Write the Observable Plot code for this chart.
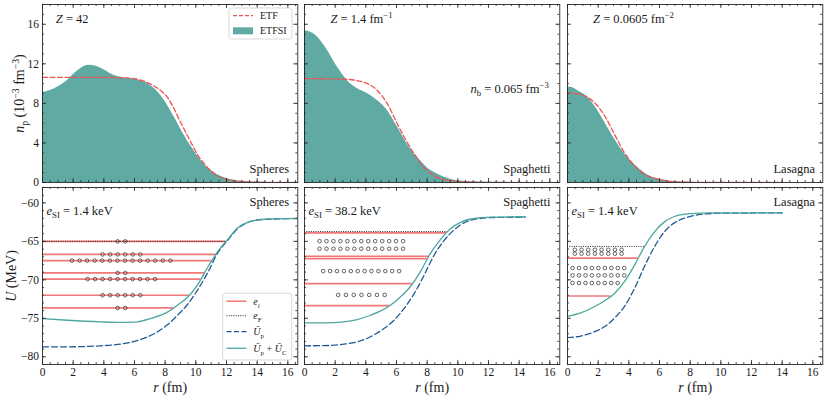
<!DOCTYPE html>
<html><head><meta charset="utf-8">
<script src="https://cdn.jsdelivr.net/npm/d3@7"></script>
<script src="https://cdn.jsdelivr.net/npm/@observablehq/plot@0.6"></script>
<style>
body{margin:0;background:#fff;}
#chart{position:relative;width:830px;height:396px;overflow:hidden;background:#fff;}
text{white-space:pre;}
</style></head><body><div id="chart"></div>
<script>
// ---------------- DATA ----------------
// proton density n_p (1e-3 fm^-3) vs r (fm): [r, n]
const spheresETFSI = [[0,9.1],[0.5,9.3],[1,9.65],[1.6,10.3],[2.3,11.3],[3.0,11.85],[3.5,11.75],[4.0,11.4],[4.5,10.95],[5.1,10.65],[6.0,10.45],[6.6,10.2],[7.3,9.5],[7.95,8.3],[8.6,6.6],[9.25,4.75],[9.8,3.4],[10.35,2.2],[11.0,1.2],[11.65,0.6],[12.5,0.22],[13.6,0.06],[15,0.01],[16.65,0]];
const spheresETF = [[0,10.62],[4,10.62],[5,10.6],[6,10.5],[6.6,10.25],[7.1,9.9],[7.7,9.3],[8.2,8.5],[8.6,7.4],[9.05,5.95],[9.5,4.6],[9.8,3.7],[10.2,2.6],[10.6,1.8],[11.0,1.15],[11.4,0.68],[12,0.32],[12.5,0.17],[13.5,0.04],[16.65,0]];
const spaghettiETFSI = [[0,15.35],[0.4,15.2],[0.83,14.75],[1.48,13.4],[2.13,11.7],[2.8,10.3],[3.44,9.5],[4.1,9.0],[4.75,8.3],[5.4,7.3],[6.06,5.6],[6.7,3.9],[7.36,2.54],[8.0,1.5],[8.67,0.85],[9.5,0.34],[10.6,0.1],[12,0.02],[14.4,0]];
const spaghettiETF = [[0,10.5],[2.5,10.45],[3.44,10.3],[4.1,10.0],[4.75,9.3],[5.4,7.97],[6.06,5.9],[6.5,4.6],[7.15,2.9],[7.8,1.5],[8.45,0.68],[9.3,0.24],[10.4,0.07],[12,0.01],[14.4,0]];
const lasagnaETFSI = [[0,9.66],[0.3,9.6],[0.65,9.3],[1.3,8.64],[1.96,7.3],[2.6,5.6],[3.27,3.9],[3.92,2.54],[4.6,1.5],[5.2,0.78],[6.1,0.27],[7.0,0.07],[8.5,0.01],[14,0]];
const lasagnaETF = [[0,9.08],[0.87,8.9],[1.74,8.1],[2.4,6.8],[3.05,4.9],[3.7,3.05],[4.36,1.7],[5.0,0.85],[5.9,0.34],[6.75,0.1],[8,0.02],[14,0]];

// potentials U (MeV) vs r (fm): [r, U]
const spheresUpC = [[0,-75.03],[1.63,-75.25],[3.8,-75.46],[4.9,-75.52],[6.0,-75.5],[7.1,-75.0],[8.17,-74.17],[8.8,-73.3],[9.5,-72.2],[10.1,-70.7],[10.8,-68.3],[11.4,-66.4],[12.1,-64.7],[12.75,-63.2],[13.4,-62.5],[14.3,-62.16],[15.1,-62.07],[16.7,-62.0]];
const spheresUp = [[0,-78.7],[1.63,-78.7],[3.8,-78.57],[4.9,-78.4],[6.0,-78.0],[6.86,-77.4],[7.5,-76.76],[8.17,-75.8],[8.8,-74.6],[9.5,-73.1],[10.1,-71.36],[10.8,-68.98],[11.4,-66.6],[12.1,-64.8],[12.75,-63.3],[13.4,-62.55],[14.3,-62.16],[16.7,-62.03]];
const spaghettiUpC = [[0,-75.6],[1.26,-75.6],[2.57,-75.46],[3.44,-75.16],[4.3,-74.6],[4.97,-74.04],[5.6,-73.3],[6.27,-72.2],[6.9,-70.9],[7.6,-68.8],[8.2,-66.6],[8.9,-64.67],[9.5,-63.4],[10.2,-62.5],[11.07,-62.03],[12.16,-61.86],[14.4,-61.8]];
const spaghettiUp = [[0,-78.57],[1.26,-78.55],[2.57,-78.36],[3.44,-78.06],[4.3,-77.4],[5.2,-76.3],[5.84,-75.25],[6.5,-73.7],[7.15,-71.8],[7.8,-69.4],[8.45,-66.8],[9.1,-64.9],[9.76,-63.5],[10.4,-62.6],[11.3,-62.07],[12.37,-61.9],[14.4,-61.86]];
const lasagnaUpC = [[0,-74.73],[0.87,-74.3],[1.74,-73.5],[2.4,-72.74],[3.05,-71.8],[3.7,-70.28],[4.36,-68.12],[5.0,-65.74],[5.66,-63.8],[6.3,-62.5],[6.97,-61.77],[7.84,-61.43],[9.37,-61.3],[14,-61.3]];
const lasagnaUp = [[0,-77.5],[0.87,-77.3],[1.74,-76.76],[2.4,-76.1],[3.05,-75.0],[3.7,-73.5],[4.36,-71.15],[5.0,-68.34],[5.66,-65.74],[6.3,-63.8],[6.97,-62.6],[7.84,-61.86],[8.7,-61.5],[10,-61.34],[14,-61.3]];

// single-particle levels e_i (MeV) and Fermi energies e_F (MeV)
const spheresLevels = [-65.0,-66.7,-67.5,-69.1,-69.9,-72.0,-73.65];
const spaghettiLevels = [-63.9,-66.96,-67.26,-70.5,-73.35];
const lasagnaLevels = [-67.17,-72.1];
const fermi = [-65.0, -63.72, -65.66];

// occupation rows: [U, number of circles, first r, last r]
const spheresOcc = [[-65.0,2,4.9,5.4],[-66.7,6,3.92,6.38],[-67.5,14,1.92,8.34],[-69.1,2,4.9,5.4],[-69.9,10,2.94,7.34],[-72.0,6,3.92,6.38],[-73.65,2,4.9,5.4]];
const spaghettiOcc = [[-64.97,13,0.98,6.43],[-65.96,13,0.98,6.43],[-68.86,12,1.22,6.17],[-71.96,7,2.2,5.23]];
const lasagnaOcc = [[-66.09,8,0.48,3.53],[-66.6,8,0.48,3.53],[-68.47,9,0.33,3.7],[-69.42,9,0.33,3.7],[-70.41,8,0.33,3.27]];

// labels
const shapes = ["Spheres","Spaghetti","Lasagna"];
const zLabels = ["~Z~ = 42","~Z~ = 1.4 fm^{−1}","~Z~ = 0.0605 fm^{−2}"];
const eSI = ["~e~_{SI} = 1.4 keV","~e~_{SI} = 38.2 keV","~e~_{SI} = 1.4 keV"];
const nbLabel = "~n~_{b} = 0.065 fm^{−3}";

// ticks
const X_MAJOR = [0,2,4,6,8,10,12,14,16];
const NP_MAJOR = [0,4,8,12,16];
const U_MAJOR = [-80,-75,-70,-65,-60];

// ---------------- LAYOUT / STYLE ----------------
const FONT = "'Liberation Serif','DejaVu Serif',serif";
const X_DOMAIN = [0,16.65], NP_DOMAIN = [0,18], U_DOMAIN = [-81,-58];
const colX = [41.7,304,566.7], PW = 255.3;
const rowY = [4,186.5], PH = [178,177];
const FRAME = "#262626";
const TEAL_FILL = "#60aaa4", TEAL = "#4ea79f", RED = "#f05252", LVL = "#f27878", NAVY = "#215b97";
const fmt = d => d < 0 ? "\u2212" + Math.abs(d) : String(d);
const chart = document.getElementById("chart");
const SVGNS = "http://www.w3.org/2000/svg";

function parseRich(s){
  const segs=[]; let italic=false, mode="n", buf="";
  const flush=()=>{ if(buf) segs.push({text:buf,italic,mode}); buf=""; };
  for(let i=0;i<s.length;i++){
    const c=s[i];
    if(c==="~"){flush(); italic=!italic;}
    else if((c==="_"||c==="^")&&s[i+1]==="{"){flush(); mode=c==="_"?"sub":"sup"; i++;}
    else if(c==="}"&&mode!=="n"){flush(); mode="n";}
    else buf+=c;
  }
  flush(); return segs;
}
function richify(root){
  root.querySelectorAll("text").forEach(t=>{
    t.setAttribute("font-family",FONT);
    const s=t.textContent;
    if(!/[~]|_\{|\^\{/.test(s)) return;
    const fs=parseFloat(getComputedStyle(t).fontSize)||12;
    while(t.firstChild) t.removeChild(t.firstChild);
    let cur=0;
    for(const seg of parseRich(s)){
      const ts=document.createElementNS(SVGNS,"tspan");
      const target=seg.mode==="sub"?0.28*fs:seg.mode==="sup"?-0.42*fs:0;
      const d=target-cur; if(d) ts.setAttribute("dy",d.toFixed(2)); cur=target;
      if(seg.mode!=="n") ts.setAttribute("font-size",(0.7*fs).toFixed(2));
      if(seg.italic) ts.setAttribute("font-style","italic");
      ts.textContent=seg.text; t.appendChild(ts);
    }
  });
}
function turn(curve,U){
  for(let i=1;i<curve.length;i++){
    const [r0,u0]=curve[i-1],[r1,u1]=curve[i];
    if(u0<U&&u1>=U) return r0+(U-u0)/(u1-u0)*(r1-r0);
  }
  return curve[curve.length-1][0];
}
function occDots(rows){
  const out=[];
  for(const [U,n,a,b] of rows) for(let k=0;k<n;k++) out.push({U, r: n>1 ? a+k*(b-a)/(n-1) : a});
  return out;
}
function tickMarks(h,w,yMaj,yMin){
  const s={stroke:FRAME,strokeWidth:0.8};
  const xMin=d3.range(0,X_DOMAIN[1],0.5);
  return [
    Plot.tickX(X_MAJOR,{x:d=>d,insetTop:h-4,...s}),
    Plot.tickX(X_MAJOR,{x:d=>d,insetBottom:h-4,...s}),
    Plot.tickX(xMin,{x:d=>d,insetTop:h-2,...s}),
    Plot.tickX(xMin,{x:d=>d,insetBottom:h-2,...s}),
    Plot.tickY(yMaj,{y:d=>d,insetRight:w-4,...s}),
    Plot.tickY(yMaj,{y:d=>d,insetLeft:w-4,...s}),
    Plot.tickY(yMin,{y:d=>d,insetRight:w-2,...s}),
    Plot.tickY(yMin,{y:d=>d,insetLeft:w-2,...s}),
    Plot.frame({stroke:FRAME,strokeWidth:0.9})
  ];
}
function makePanel(col,row,marks){
  const ml=50,mr=10,mt=10,mb=40,w=PW,h=PH[row];
  const svg=Plot.plot({
    width:w+ml+mr,height:h+mt+mb,marginLeft:ml,marginRight:mr,marginTop:mt,marginBottom:mb,
    x:{domain:X_DOMAIN,axis:null,label:null},
    y:{domain:row===0?NP_DOMAIN:U_DOMAIN,axis:null,label:null},
    style:{background:"transparent",overflow:"visible",fontFamily:FONT,color:"#1a1a1a",maxWidth:"none"},
    marks
  });
  svg.style.position="absolute";
  svg.style.left=(colX[col]-ml)+"px";
  svg.style.top=(rowY[row]-mt)+"px";
  chart.appendChild(svg);
  richify(svg);
}
const txt=(s,o)=>Plot.text([s],{text:d=>d,lineAnchor:"middle",fill:"#1a1a1a",...o});

// ---------------- TOP ROW ----------------
const topData=[[spheresETFSI,spheresETF],[spaghettiETFSI,spaghettiETF],[lasagnaETFSI,lasagnaETF]];
const zdx=[13.3,26,25.6];
const sdx=[-8.7,-9.3,-7.7];
topData.forEach(([fi,li],c)=>{
  const marks=[
    Plot.areaY(fi,{x:d=>d[0],y:d=>d[1],fill:TEAL_FILL,curve:"monotone-x",clip:"frame"}),
    Plot.lineY(li,{x:d=>d[0],y:d=>d[1],stroke:RED,strokeWidth:1.3,strokeDasharray:"5,2.5",curve:"monotone-x",clip:"frame"}),
    ...tickMarks(PH[0],PW,NP_MAJOR,d3.range(0,18.01,1)),
    txt(zLabels[c],{frameAnchor:"top-left",dx:zdx[c],dy:14.3,textAnchor:"start",fontSize:12.5}),
    txt(shapes[c],{frameAnchor:"bottom-right",dx:sdx[c],dy:-13.3,textAnchor:"end",fontSize:12.5})
  ];
  if(c===0){
    marks.push(Plot.axisY(NP_MAJOR,{tickSize:0,tickPadding:3.5,fontSize:11.5,tickFormat:fmt,label:null}));
    marks.push(txt("~n~_{p} (10^{−3} fm^{−3})",{frameAnchor:"left",dx:-22.5,rotate:-90,textAnchor:"middle",fontSize:14}));
  }
  if(c===1) marks.push(txt(nbLabel,{frameAnchor:"top-right",dx:-11,dy:84.3,textAnchor:"end",fontSize:12.5}));
  makePanel(c,0,marks);
});

// ---------------- BOTTOM ROW ----------------
const botData=[[spheresUpC,spheresUp,spheresLevels,spheresOcc],[spaghettiUpC,spaghettiUp,spaghettiLevels,spaghettiOcc],[lasagnaUpC,lasagnaUp,lasagnaLevels,lasagnaOcc]];
botData.forEach(([upc,up,lv,occ],c)=>{
  const marks=[
    Plot.ruleY(lv,{y:d=>d,x1:()=>0,x2:d=>turn(upc,d),stroke:LVL,strokeWidth:1.7}),
    Plot.ruleY([fermi[c]],{y:d=>d,x1:()=>0,x2:d=>turn(upc,d),stroke:"#111",strokeWidth:0.9,strokeDasharray:"1,1.3"}),
    Plot.lineY(up,{x:d=>d[0],y:d=>d[1],stroke:NAVY,strokeWidth:1.3,strokeDasharray:"6,3",curve:"monotone-x",clip:"frame"}),
    Plot.lineY(upc,{x:d=>d[0],y:d=>d[1],stroke:TEAL,strokeWidth:1.3,curve:"monotone-x",clip:"frame"}),
    Plot.dot(occDots(occ),{x:d=>d.r,y:d=>d.U,r:1.8,stroke:"#333",strokeWidth:0.75,fill:"none"}),
    ...tickMarks(PH[1],PW,U_MAJOR,d3.range(-81,-57.9,1)),
    Plot.axisX(X_MAJOR,{tickSize:0,tickPadding:3.5,fontSize:11.5,tickFormat:fmt,label:null}),
    txt("~r~ (fm)",{frameAnchor:"bottom",dy:23,textAnchor:"middle",fontSize:14}),
    txt(eSI[c],{frameAnchor:"top-left",dx:4,dy:23.5,textAnchor:"start",fontSize:12.5}),
    txt(shapes[c],{frameAnchor:"top-right",dx:sdx[c],dy:14.5,textAnchor:"end",fontSize:12.5})
  ];
  if(c===0){
    marks.push(Plot.axisY(U_MAJOR,{tickSize:0,tickPadding:3.5,fontSize:11.5,tickFormat:fmt,label:null}));
    marks.push(txt("~U~ (MeV)",{frameAnchor:"left",dx:-31,rotate:-90,textAnchor:"middle",fontSize:14}));
  }
  makePanel(c,1,marks);
});

// ---------------- LEGENDS (overlay) ----------------
const ov=d3.select(chart).append("svg").attr("width",830).attr("height",396)
  .style("position","absolute").style("left","0px").style("top","0px").style("font-family",FONT);
function box(x,y,w,h){ov.append("rect").attr("x",x).attr("y",y).attr("width",w).attr("height",h).attr("rx",2.5)
  .attr("fill","white").attr("fill-opacity",0.85).attr("stroke","#cfcfcf").attr("stroke-width",0.8);}
function ltext(x,y,s){ov.append("text").attr("x",x).attr("y",y).attr("dy","0.35em").attr("font-size",10).attr("fill","#1a1a1a").text(s);}
function lline(x,y,stroke,dash,w){ov.append("line").attr("x1",x).attr("x2",x+20).attr("y1",y).attr("y2",y)
  .attr("stroke",stroke).attr("stroke-width",w).attr("stroke-dasharray",dash||null);}
box(229,8,63,31);
lline(233,15.7,RED,"4,2",1.3); ltext(260,15.7,"ETF");
ov.append("rect").attr("x",233).attr("y",27.3).attr("width",20).attr("height",7).attr("fill",TEAL_FILL);
ltext(260,30.8,"ETFSI");
box(222.7,293.3,69,66.7);
lline(226.5,301.2,LVL,null,1.5); ltext(253.3,301.2,"~e~_{~i~}");
lline(226.5,315.7,"#111","1,1.3",0.9); ltext(253.3,315.7,"~e~_{F}");
lline(226.5,331.7,NAVY,"5,2.5",1.3); ltext(253.3,331.7,"~Ū~_{p}");
lline(226.5,348.3,TEAL,null,1.3); ltext(253.3,348.3,"~Ū~_{p} + ~Ū~_{C}");
richify(ov.node());
</script></body></html>
